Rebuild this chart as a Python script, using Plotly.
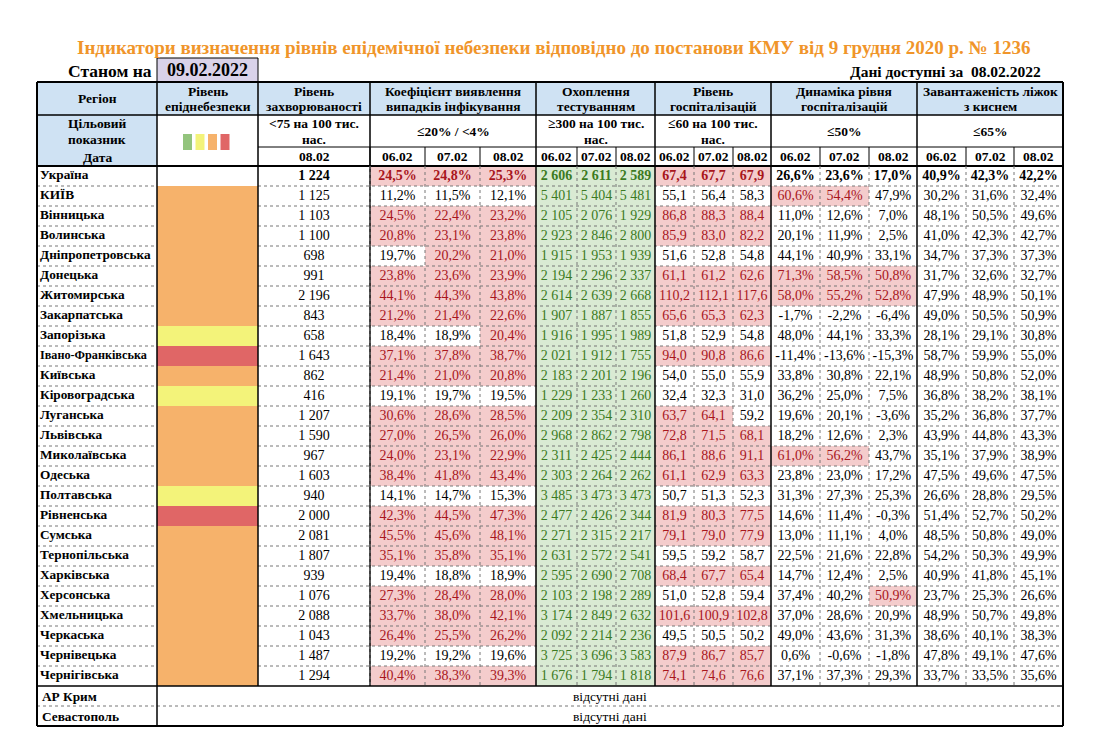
import plotly.graph_objects as go

# ---------------- data ----------------
title = "Індикатори визначення рівнів епідемічної небезпеки відповідно до постанови КМУ від 9 грудня 2020 р. № 1236"
as_of_label = "Станом на"
as_of_date = "09.02.2022"
avail_label = "Дані доступні за  08.02.2022"

regions = ["Україна", "КИЇВ", "Вінницька", "Волинська", "Дніпропетровська", "Донецька",
           "Житомирська", "Закарпатська", "Запорізька", "Івано-Франківська", "Київська",
           "Кіровоградська", "Луганська", "Львівська", "Миколаївська", "Одеська",
           "Полтавська", "Рівненська", "Сумська", "Тернопільська", "Харківська",
           "Херсонська", "Хмельницька", "Черкаська", "Чернівецька", "Чернігівська"]
levels = ["", "orange", "orange", "orange", "orange", "orange", "orange", "orange", "yellow",
          "red", "orange", "yellow", "orange", "orange", "orange", "orange", "yellow", "red",
          "orange", "orange", "orange", "orange", "orange", "orange", "orange", "orange"]

incidence = [1224, 1125, 1103, 1100, 698, 991, 2196, 843, 658, 1643, 862, 416, 1207, 1590,
             967, 1603, 940, 2000, 2081, 1807, 939, 1076, 2088, 1043, 1487, 1294]

coef_0602 = [24.5, 11.2, 24.5, 20.8, 19.7, 23.8, 44.1, 21.2, 18.4, 37.1, 21.4, 19.1, 30.6,
             27.0, 24.0, 38.4, 14.1, 42.3, 45.5, 35.1, 19.4, 27.3, 33.7, 26.4, 19.2, 40.4]
coef_0702 = [24.8, 11.5, 22.4, 23.1, 20.2, 23.6, 44.3, 21.4, 18.9, 37.8, 21.0, 19.7, 28.6,
             26.5, 23.1, 41.8, 14.7, 44.5, 45.6, 35.8, 18.8, 28.4, 38.0, 25.5, 19.2, 38.3]
coef_0802 = [25.3, 12.1, 23.2, 23.8, 21.0, 23.9, 43.8, 22.6, 20.4, 38.7, 20.8, 19.5, 28.5,
             26.0, 22.9, 43.4, 15.3, 47.3, 48.1, 35.1, 18.9, 28.0, 42.1, 26.2, 19.6, 39.3]

test_0602 = [2606, 5401, 2105, 2923, 1915, 2194, 2614, 1907, 1916, 2021, 2183, 1229, 2209,
             2968, 2311, 2303, 3485, 2477, 2271, 2631, 2595, 2103, 3174, 2092, 3725, 1676]
test_0702 = [2611, 5404, 2076, 2846, 1953, 2296, 2639, 1887, 1995, 1912, 2201, 1233, 2354,
             2862, 2425, 2264, 3473, 2426, 2315, 2572, 2690, 2198, 2849, 2214, 3696, 1794]
test_0802 = [2589, 5481, 1929, 2800, 1939, 2337, 2668, 1855, 1989, 1755, 2196, 1260, 2310,
             2798, 2444, 2262, 3473, 2344, 2217, 2541, 2708, 2289, 2632, 2236, 3583, 1818]

hosp_0602 = [67.4, 55.1, 86.8, 85.9, 51.6, 61.1, 110.2, 65.6, 51.8, 94.0, 54.0, 32.4, 63.7,
             72.8, 86.1, 61.1, 50.7, 81.9, 79.1, 59.5, 68.4, 51.0, 101.6, 49.5, 87.9, 74.1]
hosp_0702 = [67.7, 56.4, 88.3, 83.0, 52.8, 61.2, 112.1, 65.3, 52.9, 90.8, 55.0, 32.3, 64.1,
             71.5, 88.6, 62.9, 51.3, 80.3, 79.0, 59.2, 67.7, 52.8, 100.9, 50.5, 86.7, 74.6]
hosp_0802 = [67.9, 58.3, 88.4, 82.2, 54.8, 62.6, 117.6, 62.3, 54.8, 86.6, 55.9, 31.0, 59.2,
             68.1, 91.1, 63.3, 52.3, 77.5, 77.9, 58.7, 65.4, 59.4, 102.8, 50.2, 85.7, 76.6]

dyn_0602 = [26.6, 60.6, 11.0, 20.1, 44.1, 71.3, 58.0, -1.7, 48.0, -11.4, 33.8, 36.2, 19.6,
            18.2, 61.0, 23.8, 31.3, 14.6, 13.0, 22.5, 14.7, 37.4, 37.0, 49.0, 0.6, 37.1]
dyn_0702 = [23.6, 54.4, 12.6, 11.9, 40.9, 58.5, 55.2, -2.2, 44.1, -13.6, 30.8, 25.0, 20.1,
            12.6, 56.2, 23.0, 27.3, 11.4, 11.1, 21.6, 12.4, 40.2, 28.6, 43.6, -0.6, 37.3]
dyn_0802 = [17.0, 47.9, 7.0, 2.5, 33.1, 50.8, 52.8, -6.4, 33.3, -15.3, 22.1, 7.5, -3.6,
            2.3, 43.7, 17.2, 25.3, -0.3, 4.0, 22.8, 2.5, 50.9, 20.9, 31.3, -1.8, 29.3]

beds_0602 = [40.9, 30.2, 48.1, 41.0, 34.7, 31.7, 47.9, 49.0, 28.1, 58.7, 48.9, 36.8, 35.2,
             43.9, 35.1, 47.5, 26.6, 51.4, 48.5, 54.2, 40.9, 23.7, 48.9, 38.6, 47.8, 33.7]
beds_0702 = [42.3, 31.6, 50.5, 42.3, 37.3, 32.6, 48.9, 50.5, 29.1, 59.9, 50.8, 38.2, 36.8,
             44.8, 37.9, 49.6, 28.8, 52.7, 50.8, 50.3, 41.8, 25.3, 50.7, 40.1, 49.1, 33.5]
beds_0802 = [42.2, 32.4, 49.6, 42.7, 37.3, 32.7, 50.1, 50.9, 30.8, 55.0, 52.0, 38.1, 37.7,
             43.3, 38.9, 47.5, 29.5, 50.2, 49.0, 49.9, 45.1, 26.6, 49.8, 38.3, 47.6, 35.6]

missing_regions = ["АР Крим", "Севастополь"]
missing_text = "відсутні дані"

dates3 = ["06.02", "07.02", "08.02"]
inc_date = "08.02"

group_titles = [("Регіон",), ("Рівень", "епіднебезпеки"), ("Рівень", "захворюваності"),
                ("Коефіцієнт виявлення", "випадків інфікування"), ("Охоплення", "тестуванням"),
                ("Рівень", "госпіталізацій"), ("Динаміка рівня", "госпіталізацій"),
                ("Завантаженість ліжок", "з киснем")]
targets = [("<75 на 100 тис.", "нас."), ("≤20% / <4%",), ("≥300 на 100 тис.", "нас."),
           ("≤60 на 100 тис.", "нас."), ("≤50%",), ("≤65%",)]

# ---------------- style / geometry ----------------
FONT = "Liberation Serif"
X = [37, 157, 258, 370, 425, 480, 536, 577, 616, 655, 694, 733, 771, 820, 869, 917, 966, 1014, 1063]
GROUPS = [(0, 1), (1, 2), (2, 3), (3, 6), (6, 9), (9, 12), (12, 15), (15, 18)]
Y_TOP, Y_H1, Y_H2, Y_DATA, ROW_H = 82, 115, 147, 166, 20
N = len(regions)
Y_END = Y_DATA + ROW_H * N
Y_BOTTOM = Y_END + ROW_H * len(missing_regions)

BLUE = "#CFE2F3"
PINK = "#F4CCCC"
RED_TXT = "#A8161C"
GREEN = "#D9EAD3"
GREEN_TXT = "#3C7A22"
LEVEL_COL = {"orange": "#F6B26B", "yellow": "#F3F37A", "red": "#E06666", "green": "#93C47D"}
HEAD_SIZE = 13.5
DATA_SIZE = 14
NAME_SIZE = 13.3

shapes = []
annotations = []


def rect(x0, y0, x1, y1, fill, lw=0, lc=None, layer="below"):
    shapes.append(dict(type="rect", xref="x", yref="y", x0=x0, y0=y0, x1=x1, y1=y1,
                       fillcolor=fill, line=dict(width=lw, color=lc or fill), layer=layer))


def hline(x0, x1, y, w=1, color="black", dash="solid"):
    shapes.append(dict(type="line", xref="x", yref="y", x0=x0, x1=x1, y0=y, y1=y,
                       line=dict(width=w, color=color, dash=dash), layer="above"))


def vline(x, y0, y1, w=1, color="black", dash="solid"):
    shapes.append(dict(type="line", xref="x", yref="y", x0=x, x1=x, y0=y0, y1=y1,
                       line=dict(width=w, color=color, dash=dash), layer="above"))


def text(x, y, s, size=HEAD_SIZE, bold=True, color="black", xanchor="center"):
    annotations.append(dict(x=x, y=y, xref="x", yref="y", text=(f"<b>{s}</b>" if bold else s),
                            showarrow=False, xanchor=xanchor, yanchor="middle",
                            font=dict(family=FONT, size=size, color=color)))


def cx(i):
    return (X[i] + X[i + 1]) / 2


def ry(r):
    return Y_DATA + ROW_H * (r + 0.5)


def fmt_pct(v):
    return f"{v:.1f}".replace(".", ",") + "%"


def fmt_dec(v):
    return f"{v:.1f}".replace(".", ",")


def fmt_int(v):
    return f"{v:,}".replace(",", " ")


# ---------------- titles ----------------
text(553, 47, title, size=19, color="#F0952A")
text(154, 71, as_of_label, size=17.5, xanchor="right")
rect(157, 58, 258, Y_TOP, "#D9D2E9", lw=1, lc="black")
text(207.5, 70, as_of_date, size=18)
text(1043, 71, avail_label, size=15.5, xanchor="right")

# ---------------- header ----------------
rect(X[0], Y_TOP, X[-1], Y_H1, BLUE)
rect(X[0], Y_H1, X[1], Y_DATA, BLUE)
for (a, b), lines in zip(GROUPS, group_titles):
    xc = (X[a] + X[b]) / 2
    if len(lines) == 1:
        text(xc, (Y_TOP + Y_H1) / 2, lines[0])
    else:
        text(xc, Y_TOP + 9, lines[0])
        text(xc, Y_TOP + 24.5, lines[1])
text(cx(0), Y_H1 + 8.5, "Цільовий")
text(cx(0), Y_H1 + 24, "показник")
text(cx(0), (Y_H2 + Y_DATA) / 2 + 1, "Дата")
for (a, b), lines in zip(GROUPS[2:], targets):
    xc = (X[a] + X[b]) / 2
    if len(lines) == 1:
        text(xc, (Y_H1 + Y_H2) / 2, lines[0])
    else:
        text(xc, Y_H1 + 8.5, lines[0])
        text(xc, Y_H1 + 24, lines[1])
text(cx(2), (Y_H2 + Y_DATA) / 2, inc_date)
for c in range(3, 18):
    text(cx(c), (Y_H2 + Y_DATA) / 2, dates3[(c - 3) % 3])
# legend squares in level column
for k, name in enumerate(["green", "yellow", "orange", "red"]):
    x0 = 183 + k * 12.5
    rect(x0, 134, x0 + 9, 150, LEVEL_COL[name])

# ---------------- data cells ----------------
columns = [
    (2, incidence, fmt_int, None, None),
    (3, coef_0602, fmt_pct, lambda v: v > 20, "pink"),
    (4, coef_0702, fmt_pct, lambda v: v > 20, "pink"),
    (5, coef_0802, fmt_pct, lambda v: v > 20, "pink"),
    (6, test_0602, fmt_int, lambda v: v >= 300, "green"),
    (7, test_0702, fmt_int, lambda v: v >= 300, "green"),
    (8, test_0802, fmt_int, lambda v: v >= 300, "green"),
    (9, hosp_0602, fmt_dec, lambda v: v > 60, "pink"),
    (10, hosp_0702, fmt_dec, lambda v: v > 60, "pink"),
    (11, hosp_0802, fmt_dec, lambda v: v > 60, "pink"),
    (12, dyn_0602, fmt_pct, lambda v: v > 50, "pink"),
    (13, dyn_0702, fmt_pct, lambda v: v > 50, "pink"),
    (14, dyn_0802, fmt_pct, lambda v: v > 50, "pink"),
    (15, beds_0602, fmt_pct, lambda v: v > 65, "pink"),
    (16, beds_0702, fmt_pct, lambda v: v > 65, "pink"),
    (17, beds_0802, fmt_pct, lambda v: v > 65, "pink"),
]

fig = go.Figure()

# level fills
for r, lev in enumerate(levels):
    if lev:
        rect(X[1], Y_DATA + ROW_H * r, X[2], Y_DATA + ROW_H * (r + 1), LEVEL_COL[lev])

# region names (long names shrink to fit the cell, as in the source sheet)
fig.add_trace(go.Scatter(
    x=[X[0] + 3] * N, y=[ry(r) for r in range(N)],
    text=[f"<b>{s}</b>" for s in regions], mode="text", textposition="middle right",
    textfont=dict(family=FONT, size=[12.2 if len(s) > 16 else NAME_SIZE for s in regions],
                  color="black"),
    hoverinfo="skip", showlegend=False))

for c, vals, f, rule, kind in columns:
    txt, cols = [], []
    for r, v in enumerate(vals):
        hit = rule is not None and rule(v)
        if hit:
            rect(X[c], Y_DATA + ROW_H * r, X[c + 1], Y_DATA + ROW_H * (r + 1),
                 PINK if kind == "pink" else GREEN)
            cols.append(RED_TXT if kind == "pink" else GREEN_TXT)
        else:
            cols.append("black")
        s = f(v)
        txt.append(f"<b>{s}</b>" if r == 0 else s)
    fig.add_trace(go.Scatter(
        x=[cx(c)] * N, y=[ry(r) + 0.5 for r in range(N)], text=txt, mode="text",
        textposition="middle center", textfont=dict(family=FONT, size=DATA_SIZE, color=cols),
        hoverinfo="skip", showlegend=False))

# missing rows
for k, name in enumerate(missing_regions):
    yc = Y_END + ROW_H * (k + 0.5)
    text(X[0] + 3, yc, name, size=NAME_SIZE, xanchor="left")
    text(610, yc, missing_text, size=13.5, bold=False)

# ---------------- grid lines ----------------
# horizontal
hline(X[0], X[-1], Y_TOP, w=2)
hline(X[0], X[-1], Y_H1, w=1.3)
hline(X[2], X[-1], Y_H2, w=1)
hline(X[0], X[-1], Y_DATA, w=2)
for r in range(1, N):
    y = Y_DATA + ROW_H * r
    hline(X[0], X[1], y, w=1, color="#777", dash="dot")
    hline(X[2], X[-1], y, w=1, color="#777", dash="dot")
hline(X[0], X[-1], Y_END, w=1.5)
hline(X[0], X[-1], Y_END + ROW_H, w=1, color="#777", dash="dot")
hline(X[0], X[-1], Y_BOTTOM, w=2)

# vertical
for b in [0, 1, 2, 3, 6, 9, 12, 15, 18]:
    xv = X[b]
    if b in (0, 1, 18):
        vline(xv, Y_TOP, Y_BOTTOM, w=2 if b != 1 else 1.5)
    else:
        vline(xv, Y_TOP, Y_END, w=1.5)
for c in range(3, 18):
    if c in (6, 9, 12, 15):
        continue
    vline(X[c], Y_H2, Y_DATA, w=1)
    vline(X[c], Y_DATA, Y_END, w=1, color="#777", dash="dot")

fig.update_layout(
    width=1105, height=754, margin=dict(l=0, r=0, t=0, b=0),
    paper_bgcolor="white", plot_bgcolor="white",
    xaxis=dict(range=[0, 1105], visible=False, fixedrange=True),
    yaxis=dict(range=[754, 0], visible=False, fixedrange=True),
    shapes=shapes, annotations=annotations, showlegend=False,
)

fig.write_html("out.html", config={"displayModeBar": False},
               post_script="document.body.style.margin='0';document.body.style.overflow='hidden';")
